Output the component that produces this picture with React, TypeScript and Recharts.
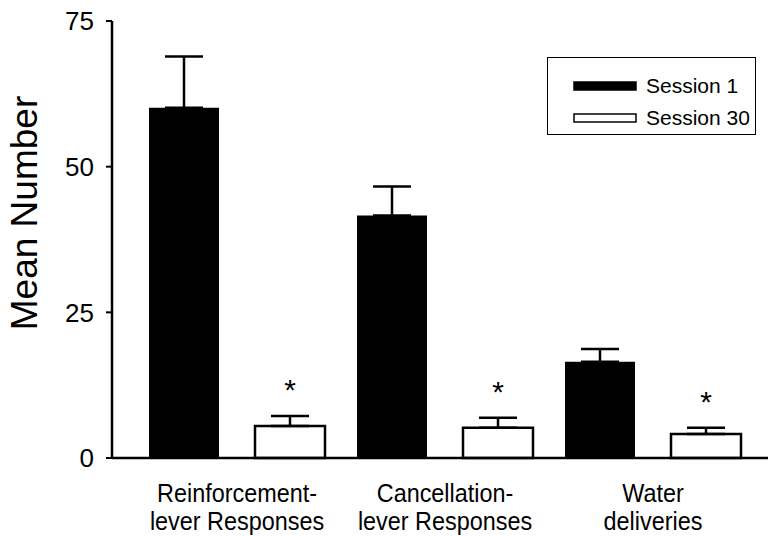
import { BarChart, Bar, XAxis, YAxis, ErrorBar, Legend, LabelList } from 'recharts';

const categories = ['Reinforcement-\nlever Responses', 'Cancellation-\nlever Responses', 'Water\ndeliveries'];
const session1 = [60.1, 41.6, 16.5];
const session1Err = [8.8, 5.0, 2.2];
const session30 = [5.5, 5.2, 4.1];
const session30Err = [1.7, 1.7, 1.1];
const significant = [true, true, true];
const yTicks = [0, 25, 50, 75];

const data = categories.map((name, i) => ({
  name,
  s1: session1[i],
  s1Err: [0, session1Err[i]],
  s30: session30[i],
  s30Err: [0, session30Err[i]],
}));

const FONT = '"Liberation Sans", Arial, sans-serif';

// reference uses a condensed face, squeeze the regular one horizontally
const CategoryTick = ({ x, y, payload }: any) => {
  const lines = String(payload.value).split('\n');
  return (
    <g transform={`translate(${x} 0) scale(0.9 1)`}>
      <text x={0} y={y} textAnchor="middle" fontFamily={FONT} fontSize={26} fill="#000">
        {lines.map((l, i) => (
          <tspan key={i} x={0} y={y + 36 + i * 28}>{l}</tspan>
        ))}
      </text>
    </g>
  );
};

const Star = (props: any) => {
  const { x, y, width, height, value, index } = props;
  if (!significant[index] || !value) return null;
  const pxPerUnit = height / value;
  const errTop = y - session30Err[index] * pxPerUnit;
  return (
    <text x={x + width / 2} y={errTop - 16} textAnchor="middle" fontFamily={FONT} fontSize={30} fill="#000">
      *
    </text>
  );
};

const LegendBox = () => (
  <div
    style={{
      width: 209,
      height: 78,
      boxSizing: 'border-box',
      border: '1.5px solid #000',
      background: '#fff',
      position: 'relative',
      fontFamily: FONT,
      fontSize: 21,
      color: '#000',
    }}
  >
    {[
      { label: 'Session 1', fill: '#000', top: 28 },
      { label: 'Session 30', fill: '#fff', top: 60 },
    ].map((it) => (
      <div key={it.label} style={{ position: 'absolute', left: 0, top: it.top - 13, height: 26, display: 'flex', alignItems: 'center' }}>
        <svg width={64} height={10} style={{ marginLeft: 25 }}>
          <rect x={1} y={1} width={62} height={8} fill={it.fill} stroke="#000" strokeWidth={1.5} />
        </svg>
        <span style={{ marginLeft: 9, lineHeight: '26px' }}>{it.label}</span>
      </div>
    ))}
  </div>
);

const YLabel = () => (
  <text x={37} y={213} transform="rotate(-90 37 213)" textAnchor="middle" fontFamily={FONT} fontSize={37} fill="#000">
    Mean Number
  </text>
);

export default function App() {
  return (
    <div style={{ position: 'absolute', left: 0, top: 0, width: 768, height: 536, background: '#fff' }}>
      <BarChart
        width={768}
        height={536}
        data={data}
        margin={{ top: 21, right: 0, bottom: 0, left: 42 }}
        barSize={70}
        barGap={36}
      >
        <XAxis
          dataKey="name"
          tick={<CategoryTick />}
          tickLine={false}
          axisLine={{ stroke: '#000', strokeWidth: 2.5 }}
          padding={{ left: 21, right: 11 }}
          interval={0}
          height={78}
        />
        <YAxis
          domain={[0, 75]}
          ticks={yTicks}
          width={70}
          tickSize={6}
          tickMargin={12}
          axisLine={{ stroke: '#000', strokeWidth: 2.5 }}
          tickLine={{ stroke: '#000', strokeWidth: 2 }}
          tick={{ fill: '#000', fontSize: 26, fontFamily: FONT }}
          label={<YLabel />}
        />
        <Legend
          layout="vertical"
          align="center"
          verticalAlign="middle"
          content={<LegendBox />}
          wrapperStyle={{ top: 57, left: 547, width: 209, height: 78 }}
        />
        <Bar dataKey="s1" name="Session 1" fill="#000" isAnimationActive={false}>
          <ErrorBar dataKey="s1Err" width={19} stroke="#000" strokeWidth={2.5} />
        </Bar>
        <Bar dataKey="s30" name="Session 30" fill="#fff" stroke="#000" strokeWidth={2.5} isAnimationActive={false}>
          <ErrorBar dataKey="s30Err" width={19} stroke="#000" strokeWidth={2.5} />
          <LabelList dataKey="s30" content={<Star />} />
        </Bar>
      </BarChart>
    </div>
  );
}
